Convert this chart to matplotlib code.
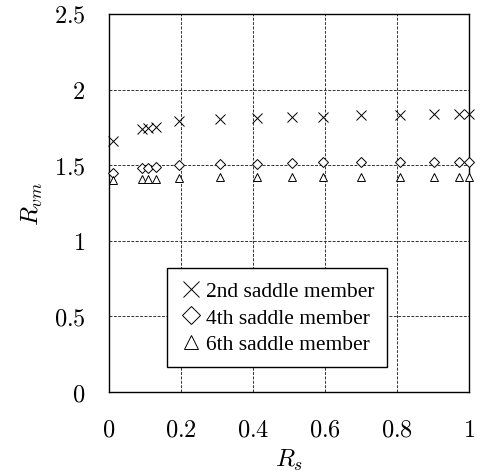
import matplotlib
matplotlib.use("Agg")
import matplotlib.pyplot as plt

plt.rcParams['mathtext.fontset'] = 'cm'
plt.rcParams['font.family'] = ['Liberation Serif', 'DejaVu Serif']

# R_s positions
rs = [0.011, 0.092, 0.108, 0.13, 0.194, 0.308, 0.41, 0.508, 0.595, 0.70, 0.808, 0.903, 0.972, 1.0]

# R_vm for each saddle member
second = [1.66, 1.74, 1.745, 1.75, 1.79, 1.805, 1.81, 1.82, 1.82, 1.83, 1.834, 1.84, 1.84, 1.84]
fourth = [1.448, 1.48, 1.48, 1.485, 1.50, 1.51, 1.51, 1.515, 1.52, 1.52, 1.52, 1.52, 1.52, 1.52]
sixth = [1.40, 1.41, 1.41, 1.41, 1.415, 1.42, 1.42, 1.42, 1.42, 1.42, 1.42, 1.42, 1.42, 1.42]

labels = ['2nd saddle member', '4th saddle member', '6th saddle member']

xticks = [0, 0.2, 0.4, 0.6, 0.8, 1]
yticks = [0, 0.5, 1, 1.5, 2, 2.5]

fig = plt.figure(figsize=(4.81, 4.77), dpi=100)
ax = fig.add_axes([0.2266, 0.176, 0.7484, 0.7926])

ax.plot(rs, second, linestyle='none', marker='x', color='black', markersize=6.5,
        markeredgewidth=0.7, label=labels[0], clip_on=False, zorder=3)
ax.plot(rs, fourth, linestyle='none', marker='D', markerfacecolor='white', markeredgecolor='black',
        markersize=5.3, markeredgewidth=0.7, label=labels[1], clip_on=False, zorder=3)
ax.plot(rs, sixth, linestyle='none', marker='^', markerfacecolor='white', markeredgecolor='black',
        markersize=6.3, markeredgewidth=0.7, label=labels[2], clip_on=False, zorder=3)

ax.set_xlim(0, 1)
ax.set_ylim(0, 2.5)
ax.set_xticks(xticks)
ax.set_yticks(yticks)
ax.set_xticklabels([f'${v:g}$' for v in xticks], fontsize=17.5)
ax.set_yticklabels([f'${v:g}$' for v in yticks], fontsize=17.5)
ax.tick_params(length=0, pad=17)
ax.tick_params(axis='x', pad=20)

ax.grid(True, linestyle=(0, (3, 1.5)), color='#333333', linewidth=0.7)
ax.set_axisbelow(True)
for s in ax.spines.values():
    s.set_linewidth(1.0)

ax.set_xlabel('$R_s$', fontsize=18, labelpad=4)
ax.set_ylabel('$R_{vm}$', fontsize=18, labelpad=6)

leg = ax.legend(loc='lower left', bbox_to_anchor=(0.161, 0.066), fontsize=15.5, fancybox=False,
                framealpha=1, edgecolor='black', handletextpad=0.2, handlelength=1.0,
                borderpad=0.6, labelspacing=0.3, borderaxespad=0, markerscale=1.7)
leg.get_frame().set_linewidth(1.0)

fig.savefig('out.png', dpi=100)
